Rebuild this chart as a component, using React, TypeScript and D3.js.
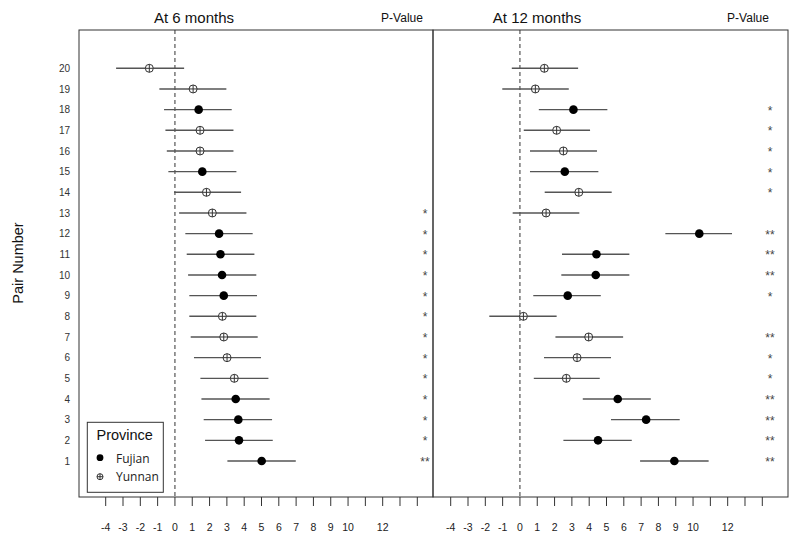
import React from "react";
import * as d3 from "d3";

const pairs = d3.range(1, 21);
const province = ["F","F","F","F","Y","Y","Y","Y","F","F","F","F","Y","Y","F","Y","Y","F","Y","Y"];

// At 6 months (index = pair-1)
const est6 = [5.01, 3.70, 3.66, 3.51, 3.43, 3.01, 2.82, 2.74, 2.82, 2.72, 2.63, 2.55, 2.16, 1.82, 1.58, 1.45, 1.45, 1.37, 1.05, -1.48];
const lo6 = [3.03, 1.74, 1.66, 1.53, 1.47, 1.10, 0.91, 0.83, 0.83, 0.76, 0.68, 0.60, 0.24, -0.05, -0.38, -0.47, -0.55, -0.63, -0.90, -3.40];
const hi6 = [6.98, 5.65, 5.61, 5.47, 5.40, 4.97, 4.78, 4.70, 4.74, 4.70, 4.59, 4.49, 4.13, 3.82, 3.55, 3.38, 3.38, 3.28, 2.97, 0.53];
const p6 = ["**","*","*","*","*","*","*","*","*","*","*","*","*","","","","","","",""];

// At 12 months
const est12 = [8.92, 4.51, 7.29, 5.65, 2.68, 3.30, 3.97, 0.20, 2.76, 4.38, 4.42, 10.36, 1.51, 3.40, 2.59, 2.51, 2.12, 3.09, 0.89, 1.41];
const lo12 = [6.94, 2.51, 5.26, 3.63, 0.80, 1.39, 2.05, -1.77, 0.77, 2.39, 2.43, 8.40, -0.42, 1.43, 0.58, 0.58, 0.22, 1.09, -1.02, -0.47];
const hi12 = [10.90, 6.46, 9.23, 7.56, 4.61, 5.26, 5.96, 2.12, 4.67, 6.32, 6.32, 12.25, 3.43, 5.30, 4.53, 4.45, 4.05, 5.05, 2.82, 3.36];
const p12 = ["**","**","**","**","*","*","**","","*","**","**","**","","*","*","*","*","*","",""];

const tickValues = d3.range(-4, 15);
const tickLabels = [-4, -3, -2, -1, 0, 1, 2, 3, 4, 5, 6, 7, 8, 9, 10, 12];

const font = "Liberation Sans, Arial, sans-serif";

function Marker({ x, y, prov, r }: { x: number; y: number; prov: string; r: number }) {
  if (prov === "F") return <circle cx={x} cy={y} r={r} fill="#000" />;
  return (
    <g>
      <circle cx={x} cy={y} r={r} fill="#fff" stroke="#333" strokeWidth={1} />
      <line x1={x - r} x2={x + r} y1={y} y2={y} stroke="#333" strokeWidth={1} />
      <line x1={x} x2={x} y1={y - r} y2={y + r} stroke="#333" strokeWidth={1} />
    </g>
  );
}

function Panel({ x, est, lo, hi, pv, title, left, right, starX, titleX, pX }: any) {
  const y = d3.scaleLinear().domain([1, 20]).range([461, 68.3]);
  const top = 30, bottom = 497;
  return (
    <g>
      <text x={titleX} y={22.7} textAnchor="middle" fontSize={15} fontFamily={font} fill="#111">{title}</text>
      <text x={pX} y={21.7} textAnchor="middle" fontSize={12} fontFamily={font} fill="#111">P-Value</text>
      <rect x={left} y={top} width={right - left} height={bottom - top} fill="none" stroke="#333" strokeWidth={1} />
      <line x1={x(0)} x2={x(0)} y1={top} y2={bottom} stroke="#333" strokeWidth={1} strokeDasharray="4,3" />
      {tickValues.map((t) => (
        <line key={t} x1={x(t)} x2={x(t)} y1={bottom} y2={bottom + 9} stroke="#333" strokeWidth={1} />
      ))}
      {tickLabels.map((t) => (
        <text key={t} x={x(t)} y={531} textAnchor="middle" fontSize={10.5} fontFamily={font} fill="#222">{t}</text>
      ))}
      {pairs.map((p, i) => (
        <g key={p}>
          <line x1={x(lo[i])} x2={x(hi[i])} y1={y(p)} y2={y(p)} stroke="#555" strokeWidth={1.4} />
          <Marker x={x(est[i])} y={y(p)} prov={province[i]} r={province[i] === "F" ? 4.3 : 4} />
          {pv[i] && (
            <text x={starX} y={y(p) + 5} textAnchor="middle" fontSize={12} fontFamily={font} fill="#444">{pv[i]}</text>
          )}
        </g>
      ))}
    </g>
  );
}

export default function App() {
  const xL = d3.scaleLinear().domain([-4, 14]).range([105.7, 417.3]);
  const xR = d3.scaleLinear().domain([-4, 14]).range([450.7, 762.3]);
  const y = d3.scaleLinear().domain([1, 20]).range([461, 68.3]);
  return (
    <svg width={800} height={543} style={{ position: "absolute", left: 0, top: 0, background: "#fff" }}>
      <rect x={0} y={0} width={800} height={543} fill="#fff" />
      <text transform="translate(23,263) rotate(-90)" textAnchor="middle" fontSize={14.5} fontFamily={font} fill="#111">Pair Number</text>
      {pairs.map((p) => (
        <text key={p} x={70} y={y(p) + 3.6} textAnchor="end" fontSize={10} fontFamily={font} fill="#333">{p}</text>
      ))}
      <Panel x={xL} est={est6} lo={lo6} hi={hi6} pv={p6} title="At 6 months" left={79} right={433} starX={425} titleX={194} pX={402} />
      <Panel x={xR} est={est12} lo={lo12} hi={hi12} pv={p12} title="At 12 months" left={433} right={788} starX={770} titleX={537} pX={748} />
      <g>
        <rect x={87.3} y={422.3} width={76} height={70} fill="#fff" stroke="#333" strokeWidth={1} />
        <text x={96.5} y={440} fontSize={14.5} fontFamily={font} fill="#111">Province</text>
        <circle cx={100} cy={457.7} r={3.4} fill="#000" />
        <text x={116} y={463} fontSize={12} fontFamily="Open Sans, sans-serif" fill="#222">Fujian</text>
        <Marker x={100} y={476.7} prov="Y" r={3} />
        <text x={116} y={481} fontSize={12} fontFamily="Open Sans, sans-serif" fill="#222">Yunnan</text>
      </g>
    </svg>
  );
}
